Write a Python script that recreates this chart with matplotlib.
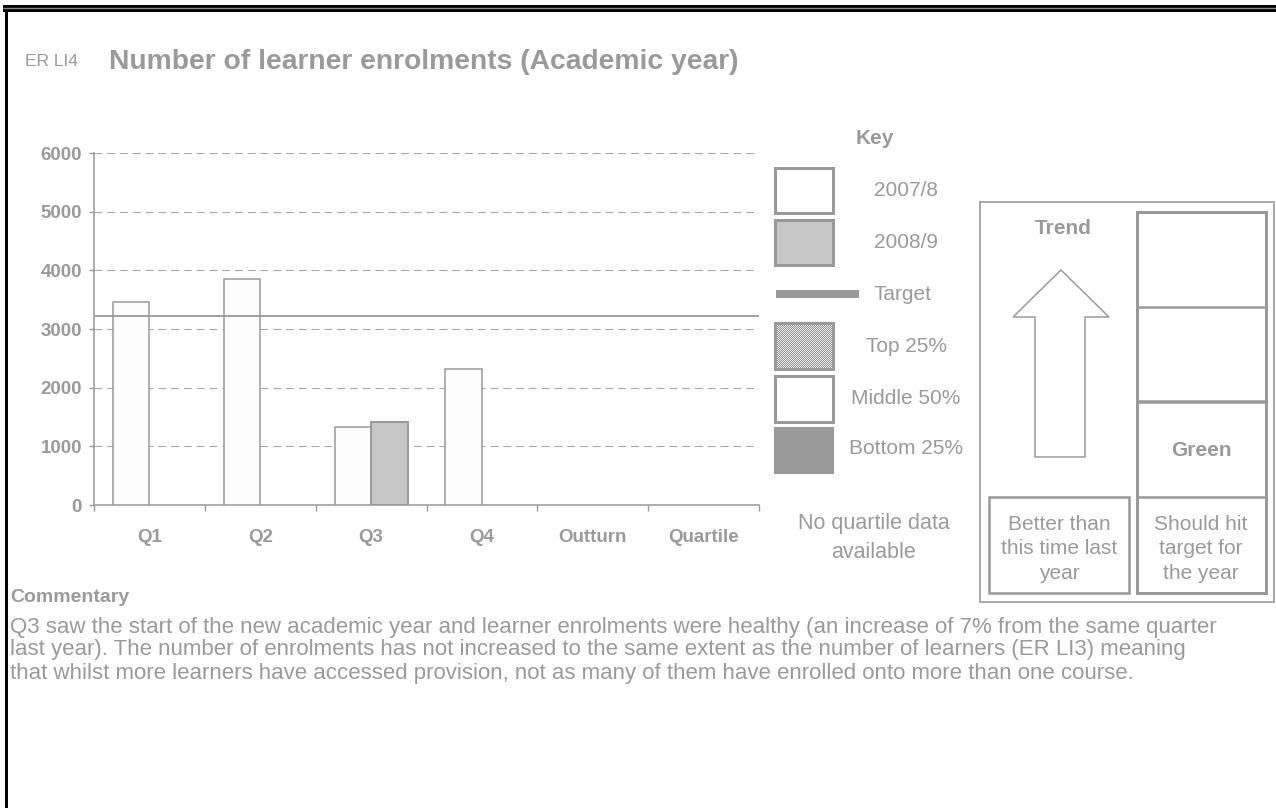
import numpy as np
import matplotlib
matplotlib.use("Agg")
import matplotlib.pyplot as plt
from matplotlib.patches import Rectangle, Polygon

W, H, DPI = 1276, 808, 100

# ---- data -------------------------------------------------------------
categories = ["Q1", "Q2", "Q3", "Q4", "Outturn", "Quartile"]
enrolments_2007_8 = [3460, 3850, 1330, 2310, np.nan, np.nan]
enrolments_2008_9 = [np.nan, np.nan, 1420, np.nan, np.nan, np.nan]
target = 3230
y_ticks = [0, 1000, 2000, 3000, 4000, 5000, 6000]

key_labels = ["2007/8", "2008/9", "Target", "Top 25%", "Middle 50%", "Bottom 25%"]
quartile_note = "No quartile data\navailable"
trend_caption = "Better than\nthis time last\nyear"
rag_caption = "Should hit\ntarget for\nthe year"
rag_status = "Green"
indicator_code = "ER LI4"
chart_title = "Number of learner enrolments (Academic year)"
commentary_lines = [
    "Q3 saw the start of the new academic year and learner enrolments were healthy (an increase of 7% from the same quarter",
    "last year). The number of enrolments has not increased to the same extent as the number of learners (ER LI3) meaning",
    "that whilst more learners have accessed provision, not as many of them have enrolled onto more than one course.",
]

# ---- style ------------------------------------------------------------
GREY = "#999999"
TXT = "#9a9a9a"
FILL_0708 = "#fdfdfd"
FILL_0809 = "#c6c6c6"
plt.rcParams["font.family"] = ["Liberation Sans", "DejaVu Sans"]

fig = plt.figure(figsize=(W / DPI, H / DPI), dpi=DPI)
fig.patch.set_facecolor("white")

# full-page layer in pixel coordinates for frame, key and status panel
ov = fig.add_axes([0, 0, 1, 1])
ov.set_xlim(0, W)
ov.set_ylim(H, 0)
ov.axis("off")

def px(v):
    return v * 72.0 / DPI

# page frame (double rule at top, heavy rule at left)
ov.add_patch(Rectangle((3, 5), W, 6.5, facecolor="black", edgecolor="none"))
ov.plot([3, W], [8.3, 8.3], color="#8a8a8a", lw=px(1.4), solid_capstyle="butt")
ov.add_patch(Rectangle((5, 5), 3, H, facecolor="black", edgecolor="none"))

# heading
ov.text(25, 62, indicator_code, fontsize=12.5, color=TXT, va="center", ha="left")
ov.text(109, 62, chart_title, fontsize=20.3, fontweight="bold", color=TXT,
        va="center", ha="left")

# ---- bar chart --------------------------------------------------------
ax = fig.add_axes([94 / W, 1 - 505 / H, (759 - 94) / W, (505 - 153) / H])
ax.patch.set_alpha(0)
n = len(categories)
centers = np.arange(n) + 0.5
bw = 0.33
ax.bar(centers - bw / 2, enrolments_2007_8, width=bw, color=FILL_0708,
       edgecolor=GREY, linewidth=1.1, zorder=3)
ax.bar(centers + bw / 2, enrolments_2008_9, width=bw, color=FILL_0809,
       edgecolor=GREY, linewidth=1.4, zorder=3)
ax.axhline(target, color=GREY, lw=1.3, zorder=4)

ax.set_xlim(0, n)
ax.set_ylim(y_ticks[0], y_ticks[-1])
ax.set_yticks(y_ticks)
ax.set_yticklabels([str(v) for v in y_ticks])
ax.set_xticks(np.arange(n + 1))
ax.set_xticklabels([])
ax.set_xticks(centers, minor=True)
ax.set_xticklabels(categories, minor=True)
ax.tick_params(axis="x", which="major", length=px(6), width=1, color=GREY, direction="out")
ax.tick_params(axis="x", which="minor", length=0, pad=17, labelsize=13.5, labelcolor=TXT)
ax.tick_params(axis="y", length=px(5), width=1, color=GREY, pad=5, labelsize=13.5, labelcolor=TXT)
for lab in ax.get_xticklabels(minor=True) + ax.get_yticklabels():
    lab.set_fontweight("bold")
for side in ("top", "right"):
    ax.spines[side].set_visible(False)
for side in ("left", "bottom"):
    ax.spines[side].set_color(GREY)
    ax.spines[side].set_linewidth(1.1)
ax.yaxis.grid(True, linestyle=(0, (7, 4.5)), color="#a8a8a8", lw=0.8, zorder=0)
ax.set_axisbelow(True)

# ---- key --------------------------------------------------------------
ov.text(875, 138, "Key", fontsize=15, fontweight="bold", color=TXT, ha="center", va="center")
box_x, box_w = 775, 58
text_x = 906
rows = [(168, 45), (220, 45), (None, None), (323, 46), (376, 46), (427, 47)]
ys = [190, 242, 294, 346, 398, 449]

ov.add_patch(Rectangle((box_x, rows[0][0]), box_w, rows[0][1], facecolor="white",
                       edgecolor=GREY, lw=px(3)))
ov.add_patch(Rectangle((box_x, rows[1][0]), box_w, rows[1][1], facecolor=FILL_0809,
                       edgecolor=GREY, lw=px(3)))
ov.plot([776, 859], [294, 294], color=GREY, lw=px(8), solid_capstyle="butt")
# stippled swatch
yy, xx = np.mgrid[0:46, 0:58]
checker = ((yy + xx) % 2).astype(float)
ov.imshow(checker, cmap=matplotlib.colors.ListedColormap(["#f2f2f2", "#8e8e8e"]),
          extent=(box_x, box_x + box_w, rows[3][0] + rows[3][1], rows[3][0]),
          interpolation="nearest", aspect="auto", zorder=2)
ov.add_patch(Rectangle((box_x, rows[3][0]), box_w, rows[3][1], facecolor="none",
                       edgecolor=GREY, lw=px(3), zorder=3))
ov.add_patch(Rectangle((box_x, rows[4][0]), box_w, rows[4][1], facecolor="white",
                       edgecolor=GREY, lw=px(3)))
ov.add_patch(Rectangle((box_x - 1, rows[5][0]), box_w + 2, rows[5][1], facecolor=GREY,
                       edgecolor="none"))
ov.set_xlim(0, W)
ov.set_ylim(H, 0)

for lab, y in zip(key_labels, ys):
    if lab == "Target":
        ov.text(874, y, lab, fontsize=15, color=TXT, ha="left", va="center")
    else:
        ov.text(text_x, y, lab, fontsize=15, color=TXT, ha="center", va="center")

ov.text(874, 538, quartile_note, fontsize=15.5, color=TXT, ha="center", va="center",
        linespacing=1.55)

# ---- trend / status panel ---------------------------------------------
ov.add_patch(Rectangle((980, 202), 294, 400, facecolor="none", edgecolor="#aaaaaa", lw=px(2)))
ov.add_patch(Rectangle((1137, 212), 129, 381, facecolor="none", edgecolor=GREY, lw=px(3)))
for yd, lw in ((307, 2.5), (402, 3.5), (497, 2.5)):
    ov.plot([1137, 1266], [yd, yd], color=GREY, lw=px(lw), solid_capstyle="butt")
ov.add_patch(Rectangle((989, 497), 140, 96, facecolor="none", edgecolor=GREY, lw=px(2.5)))
arrow = Polygon([(1035, 457), (1035, 317), (1013, 317), (1061, 270),
                 (1109, 317), (1085, 317), (1085, 457)], closed=True,
                facecolor="white", edgecolor=GREY, lw=px(1.5))
ov.add_patch(arrow)
ov.text(1063, 228, "Trend", fontsize=15, fontweight="bold", color=TXT, ha="center", va="center")
ov.text(1201, 450, rag_status, fontsize=15, fontweight="bold", color=TXT, ha="center", va="center")
ov.text(1059, 549, trend_caption, fontsize=15, color=TXT, ha="center", va="center",
        linespacing=1.38)
ov.text(1201, 549, rag_caption, fontsize=15, color=TXT, ha="center", va="center",
        linespacing=1.38)

# ---- commentary -------------------------------------------------------
ov.text(10, 598, "Commentary", fontsize=14, fontweight="bold", color=TXT, ha="left", va="center")
for i, line in enumerate(commentary_lines):
    ov.text(10, 627 + 23 * i, line, fontsize=16, color=TXT, ha="left", va="center")

fig.savefig("out.png", dpi=DPI, facecolor="white")
